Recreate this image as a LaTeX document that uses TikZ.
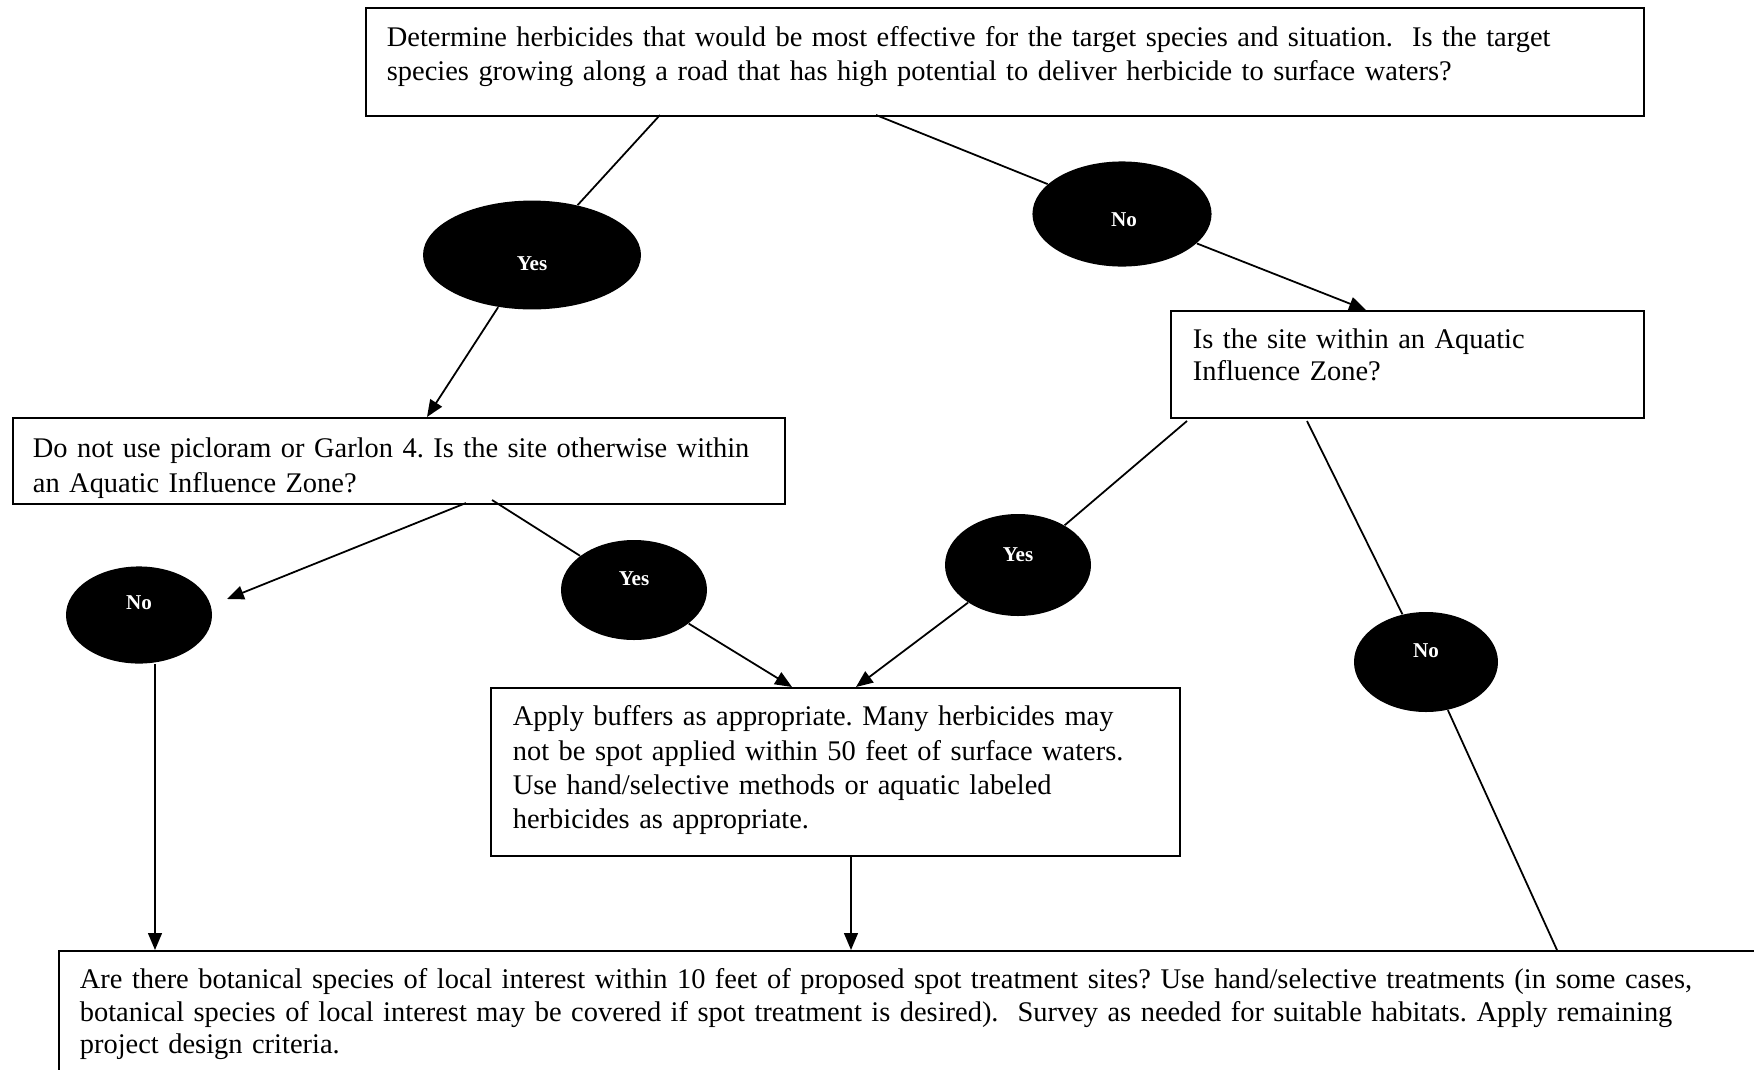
\documentclass[tikz,border=0pt]{standalone}
\usepackage{fontspec}
\setmainfont{Liberation Serif}
\usetikzlibrary{shapes.geometric,arrows.meta}

\begin{document}
\frenchspacing
\begin{tikzpicture}[x=0.45pt,y=0.45pt,yscale=-1,xscale=1,
  qbox/.style={draw, line width=0.8pt, anchor=north west, inner ysep=0pt, align=left},
  answer/.style={ellipse, fill=black, inner sep=0pt},
  answertext/.style={text=white, inner sep=0pt, font=\fontsize{9.5}{11}\selectfont\bfseries},
  link/.style={line width=0.8pt},
  linkarrow/.style={link, -{Triangle[length=7.6pt,width=6.2pt]}}]
\useasboundingbox (0,0) rectangle (1754,1070);
\clip (0,0) rectangle (1754,1070);

%Shape: Rectangle [top question]
\node[qbox, inner xsep=9.45pt, text width=556.2pt, text height=17.4pt, text depth=31.2pt, font=\fontsize{12.8}{15.3}\selectfont] (herb) at (365,7) {Determine herbicides that would be most effective for the target species and situation.\ \ Is the target\\species growing along a road that has high potential to deliver herbicide to surface waters?};
%Shape: Rectangle [right question]
\node[qbox, inner xsep=9.9pt, text width=193pt, text height=17pt, text depth=31.2pt, font=\fontsize{12.8}{14.5}\selectfont] (aizR) at (1170,310) {Is the site within an Aquatic\\Influence Zone?};
%Shape: Rectangle [left question]
\node[qbox, inner xsep=9pt, text width=329.4pt, text height=17.9pt, text depth=20.8pt, font=\fontsize{12.8}{15.5}\selectfont] (aizL) at (12,417) {Do not use picloram or Garlon 4. Is the site otherwise within\\an Aquatic Influence Zone?};
%Shape: Rectangle [buffers]
\node[qbox, inner xsep=9.9pt, text width=290.2pt, text height=17.1pt, text depth=58.5pt, font=\fontsize{12.8}{15.4}\selectfont] (buff) at (490,687) {Apply buffers as appropriate. Many herbicides may\\not be spot applied within 50 feet of surface waters.\\Use hand/selective methods or aquatic labeled\\herbicides as appropriate.};
%Shape: Rectangle [final step]
\node[qbox, inner xsep=9.45pt, text width=765pt, text height=17.1pt, text depth=54pt, font=\fontsize{12.8}{14.6}\selectfont] (final) at (58,950) {Are there botanical species of local interest within 10 feet of proposed spot treatment sites? Use hand/selective treatments (in some cases,\\botanical species of local interest may be covered if spot treatment is desired).\ \ Survey as needed for suitable habitats. Apply remaining\\project design criteria.};

%Shape: Ellipse
\node[answer, minimum width=98.1pt, minimum height=49pt] (yesA) at (532,255) {};
\node[answer, minimum width=80.6pt, minimum height=47.3pt] (noA) at (1122,214) {};
\node[answer, minimum width=65.7pt, minimum height=43.7pt] (noB) at (139,615) {};
\node[answer, minimum width=65.7pt, minimum height=45pt] (yesB) at (634,590) {};
\node[answer, minimum width=65.7pt, minimum height=45.9pt] (yesC) at (1018,565) {};
\node[answer, minimum width=64.8pt, minimum height=45pt] (noC) at (1426,662) {};

% Text Node
\node[answertext] (yesAtxt) at (532,264) {Yes};
\node[answertext] (noAtxt) at (1124,220) {No};
\node[answertext] (noBtxt) at (139,603) {No};
\node[answertext] (yesBtxt) at (634,579) {Yes};
\node[answertext] (yesCtxt) at (1018,555) {Yes};
\node[answertext] (noCtxt) at (1426,651) {No};

% end points on the boxes
\coordinate (herbY) at (660,115);
\coordinate (herbN) at (876,115);
\coordinate (aizLin) at (427,417);
\coordinate (aizRin) at (1366,310);
\coordinate (aizLno) at (466,503);
\coordinate (noBtip) at (227,599);
\coordinate (aizLyes) at (492,500);
\coordinate (aizRyes) at (1187,421);
\coordinate (aizRno) at (1307,421);
\coordinate (buffL) at (792,687);
\coordinate (buffR) at (856,687);
\coordinate (finalL) at (155,950);
\coordinate (finalM) at (851,950);
\coordinate (finalR) at (1557,950);

%Straight Lines
\draw[link] (herbY) -- (yesA);
\draw[link] (herbN) -- (noA);
\draw[linkarrow] (yesA) -- (aizLin);
\draw[linkarrow] (noA) -- (aizRin);
\draw[linkarrow] (aizLno) -- (noBtip);
\draw[link] (aizLyes) -- (yesB);
\draw[linkarrow] (yesB) -- (buffL);
\draw[link] (aizRyes) -- (yesC);
\draw[linkarrow] (yesC) -- (buffR);
\draw[link] (aizRno) -- (noC);
\draw[link] (noC) -- (finalR);
\draw[linkarrow] (noB.south -| finalL) -- (finalL);
\draw[linkarrow] (buff.south -| finalM) -- (finalM);

\end{tikzpicture}
\end{document}
